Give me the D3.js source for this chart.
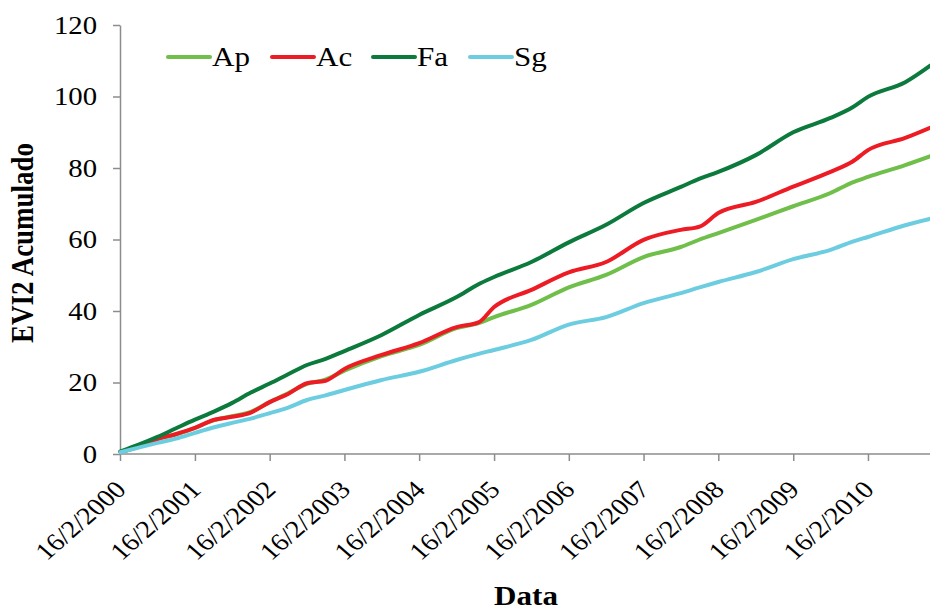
<!DOCTYPE html>
<html>
<head>
<meta charset="utf-8">
<script src="https://cdn.jsdelivr.net/npm/d3@7"></script>
<style>
  body { margin: 0; background: #fff; }
  svg { display: block; }
  svg text { font-family: "Liberation Serif", "Times New Roman", serif; fill: #000; }
  .axis path, .axis line { stroke: #8c8c8c; stroke-width: 1.5px; }
  .series { fill: none; stroke-width: 4px; stroke-linejoin: round; stroke-linecap: round; }
</style>
</head>
<body>
<svg id="chart" width="930" height="610"></svg>
<script>
// dates of the readings (16-day MODIS composites)
const dates = ["2000-02-18", "2000-05-17", "2000-08-17", "2000-11-16", "2001-02-16", "2001-05-17",
  "2001-08-17", "2001-11-16", "2002-02-16", "2002-05-17", "2002-08-17", "2002-11-16",
  "2003-02-16", "2003-08-17", "2004-02-16", "2004-08-17", "2004-12-02", "2005-02-16", "2005-08-17",
  "2006-02-16", "2006-08-17", "2007-02-16", "2007-08-17", "2007-11-17", "2008-02-16", "2008-08-17",
  "2009-02-16", "2009-08-17", "2009-12-03", "2010-02-16", "2010-08-17", "2010-12-19"];

const ap = [0.6, 2.0, 4.2, 5.4, 7.3, 9.4, 10.6, 11.8, 14.5, 17.0, 19.6, 20.8,
  23.3, 27.4, 30.5, 35.2, 36.6, 38.3, 41.7, 46.6, 50.1, 55.1, 57.9, 60.0, 61.8, 65.5,
  69.3, 73.0, 76.0, 77.5, 80.8, 83.3];
const ac = [0.6, 2.0, 4.2, 5.6, 7.3, 9.5, 10.4, 11.6, 14.5, 16.8, 19.8, 20.5,
  23.8, 27.7, 31.0, 35.5, 36.8, 41.1, 45.9, 50.8, 53.7, 59.9, 62.7, 63.6, 67.4, 70.5,
  74.8, 78.9, 81.8, 85.0, 88.4, 91.3];
const fa = [0.7, 2.6, 4.8, 7.2, 9.6, 11.8, 14.3, 17.2, 19.7, 22.3, 24.9, 26.6,
  28.8, 33.3, 38.9, 43.9, 47.5, 49.5, 53.7, 59.2, 64.1, 70.2, 74.7, 77.0, 78.9, 83.6,
  90.0, 94.0, 97.0, 99.9, 104.0, 108.7];
const sg = [0.5, 1.8, 3.1, 4.3, 5.9, 7.4, 8.7, 9.9, 11.4, 13.0, 15.1, 16.4,
  17.9, 20.7, 23.0, 26.3, 28.0, 29.1, 31.9, 36.2, 38.3, 42.2, 45.0, 46.6, 48.1, 50.9,
  54.5, 57.1, 59.4, 60.7, 64.0, 65.8];

const seriesNames = ["Ap", "Ac", "Fa", "Sg"];
const seriesColors = ["#6fbf4a", "#ed1c24", "#0b7a3c", "#6ccde0"];
const yTicks = [0, 20, 40, 60, 80, 100, 120];
const tickYears = d3.range(2000, 2011);

const parse = d3.utcParse("%Y-%m-%d");
const values = [ap, ac, fa, sg];
const stretch = "scale(1.15,1)"; // the original text is a bit wider than Times

const svg = d3.select("#chart");
const margin = {top: 25, right: 0, bottom: 156, left: 120};
const width = 930 - margin.left - margin.right;
const height = 610 - margin.top - margin.bottom;

const g = svg.append("g").attr("transform", "translate(" + margin.left + "," + margin.top + ")");

const x = d3.scaleUtc()
  .domain([Date.UTC(2000, 1, 16), Date.UTC(2010, 11, 16)])
  .range([0, width]);
const y = d3.scaleLinear().domain([0, 120]).range([height, 0]);

// axes
const yAxis = g.append("g").attr("class", "axis")
  .call(d3.axisLeft(y).tickValues(yTicks).tickSize(7).tickSizeOuter(0));
yAxis.attr("font-family", null).attr("font-size", null);
yAxis.selectAll("text").attr("font-size", 25)
  .attr("x", 0)
  .attr("transform", "translate(-23,0) " + stretch);

const xAxis = g.append("g").attr("class", "axis")
  .attr("transform", "translate(0," + height + ")")
  .call(d3.axisBottom(x)
    .tickValues(tickYears.map(yr => new Date(Date.UTC(yr, 1, 16))))
    .tickFormat(d3.utcFormat("%-d/%-m/%Y"))
    .tickSize(7).tickSizeOuter(0));
xAxis.attr("font-family", null).attr("font-size", null);
xAxis.select(".domain").attr("d", "M0,0H" + width);
xAxis.selectAll("text")
  .attr("font-size", 24.5)
  .attr("text-anchor", "end")
  .attr("dy", null).attr("y", 0)
  .attr("transform", "translate(7,37) " + stretch + " rotate(-45)");

// lines
const line = d3.line()
  .x((d, i) => x(parse(dates[i])))
  .y(d => y(d))
  .curve(d3.curveMonotoneX);

values.forEach((vals, k) => {
  g.append("path").attr("class", "series")
    .attr("stroke", seriesColors[k])
    .attr("d", line(vals));
});

// legend
const legendX = [168, 272, 373, 470];
const legend = svg.append("g");
seriesNames.forEach((name, k) => {
  legend.append("line")
    .attr("x1", legendX[k]).attr("x2", legendX[k] + 42)
    .attr("y1", 57).attr("y2", 57)
    .attr("stroke", seriesColors[k]).attr("stroke-width", 4).attr("stroke-linecap", "round");
  legend.append("text")
    .attr("transform", "translate(" + (legendX[k] + 44) + ",66) " + stretch)
    .attr("font-size", 27).text(name);
});

// titles
svg.append("text")
  .attr("transform", "translate(33,243) " + stretch + " rotate(-90)")
  .attr("text-anchor", "middle")
  .attr("font-size", 27).attr("font-weight", "bold")
  .text("EVI2 Acumulado");

svg.append("text")
  .attr("transform", "translate(526,605) " + stretch)
  .attr("text-anchor", "middle")
  .attr("font-size", 27).attr("font-weight", "bold")
  .text("Data");
</script>
</body>
</html>
